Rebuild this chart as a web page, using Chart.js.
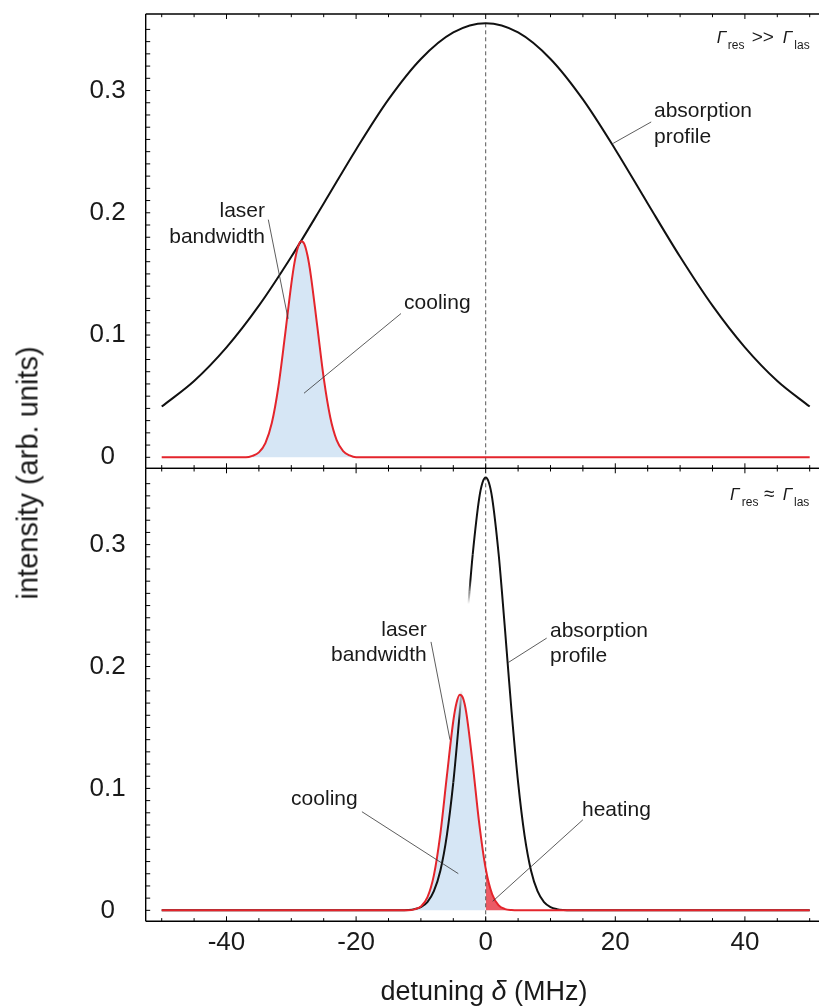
<!DOCTYPE html>
<html>
<head>
<meta charset="utf-8">
<script src="https://cdn.jsdelivr.net/npm/chart.js@4.4.0/dist/chart.umd.min.js"></script>
<style>
  body { margin: 0; width: 819px; height: 1007px; overflow: hidden; background: #fff; position: relative; font-family: "Liberation Sans", Arial, sans-serif; color: #1a1a1a; }
  .box { position: absolute; left: 0; }
  #ytitle { position: absolute; left: 28px; top: 473px; font-size: 29px; white-space: nowrap; transform: translate(-50%, -50%) rotate(-90deg); }
  #xtitle { position: absolute; left: 484px; top: 976px; font-size: 27px; line-height: 30px; white-space: nowrap; transform: translateX(-50%); }
</style>
</head>
<body>
<div class="box" style="top:0"><canvas id="topChart" width="840" height="470"></canvas></div>
<div class="box" style="top:460px"><canvas id="botChart" width="840" height="547"></canvas></div>
<div id="ytitle">intensity (arb. units)</div>
<div id="xtitle">detuning <i>δ</i> (MHz)</div>
<script>
// axis ticks
const xTicks = [-40, -20, 0, 20, 40];
const yTicks = [0, 0.1, 0.2, 0.3];

// top panel: broad absorption profile (Γres >> Γlas)
const absWideX = [-50, -45, -40, -35, -30, -25, -20, -15, -10, -5, 0, 5, 10, 15, 20, 25, 30, 35, 40, 45, 50];
const absWideY = [0.0415, 0.0624, 0.0899, 0.1240, 0.1640, 0.2076, 0.2518, 0.2927, 0.3258, 0.3475, 0.3550,
                  0.3475, 0.3258, 0.2927, 0.2518, 0.2076, 0.1640, 0.1240, 0.0899, 0.0624, 0.0415];

// top panel: laser spectrum
const laserTopX = [-50, -37, -36, -35, -34, -33, -32, -31, -30, -29.5, -29, -28.5, -28, -27.5, -27, -26, -25, -24, -23, -22, -21, -20, 50];
const laserTopY = [0, 0, 0.0012, 0.0040, 0.0116, 0.0282, 0.0575, 0.0984, 0.1417, 0.1594, 0.1715, 0.1768, 0.1746, 0.1650,
                   0.1493, 0.1074, 0.0649, 0.0330, 0.0141, 0.0051, 0.0015, 0, 0];

// bottom panel: narrow absorption profile (Γres ≈ Γlas)
const absNarrowX = [-50, -13, -12, -11, -10, -9, -8, -7, -6, -5, -4, -3.5, -3, -2.5, -2, -1, -0.5, 0,
                    0.5, 1, 2, 2.5, 3, 3.5, 4, 5, 6, 7, 8, 9, 10, 11, 12, 13, 50];
const absNarrowY = [0, 0, 0.0003, 0.0010, 0.0027, 0.0068, 0.0157, 0.0325, 0.0613, 0.1049, 0.1627, 0.1953, 0.2289, 0.2617, 0.2921, 0.3381, 0.3507, 0.3550,
                    0.3507, 0.3381, 0.2921, 0.2617, 0.2289, 0.1953, 0.1627, 0.1049, 0.0613, 0.0325, 0.0157, 0.0068, 0.0027, 0.0010, 0.0003, 0, 0];

// bottom panel: laser spectrum
const laserBotX = [-50, -12, -11, -10, -9, -8, -7, -6, -5, -4.5, -4, -3.5, -3, -2, -1, 0, 1, 2, 3, 4, 5, 50];
const laserBotY = [0, 0, 0.0008, 0.0032, 0.0106, 0.0287, 0.0626, 0.1098, 0.1553, 0.1702, 0.1768, 0.1740, 0.1622,
                   0.1198, 0.0713, 0.0342, 0.0132, 0.0041, 0.0010, 0.0002, 0, 0];

const RESONANCE = 0;
const PEAK = 0.355;

const FONT = '"Liberation Sans", Arial, sans-serif';
const X_MIN = -52.47, X_MAX = 52.47;
const Y_MIN = -0.0090, Y_MAX = 0.3626;

const pts = (xs, ys) => xs.map((x, i) => ({ x, y: ys[i] }));

function curve(data, color, order, segment) {
  return { data, borderColor: color, borderWidth: 2, pointRadius: 0, fill: false,
           cubicInterpolationMode: 'monotone', order, segment };
}
function area(data, color) {
  return { data, borderWidth: 0, backgroundColor: color, pointRadius: 0, fill: 'origin',
           cubicInterpolationMode: 'monotone', order: 5 };
}
function dashed() {
  return { data: [{ x: RESONANCE, y: Y_MIN }, { x: RESONANCE, y: PEAK }], borderColor: '#555', borderWidth: 1,
           borderDash: [4, 3], pointRadius: 0, fill: false, order: 4 };
}

function scales(bottomAxis) {
  return {
    x: {
      type: 'linear', min: X_MIN, max: X_MAX, display: bottomAxis,
      grid: { display: false, drawTicks: false }, border: { display: false },
      ticks: { font: { family: FONT, size: 26 }, color: '#1a1a1a', padding: 6, callback: v => String(v) },
      afterBuildTicks: s => { s.ticks = xTicks.map(v => ({ value: v })); },
      afterFit: s => { if (bottomAxis) { s.height = 85.7; s.paddingLeft = 0; s.paddingRight = 0; } }
    },
    y: {
      type: 'linear', min: Y_MIN, max: Y_MAX,
      grid: { display: false, drawTicks: false }, border: { display: false },
      ticks: { font: { family: FONT, size: 26 }, color: '#1a1a1a', padding: 20, crossAlign: 'center', callback: v => String(v) },
      afterBuildTicks: s => { s.ticks = yTicks.map(v => ({ value: v })); },
      afterFit: s => { s.width = 145.7; s.paddingTop = 0; s.paddingBottom = 0; }
    }
  };
}

// frame with inward ticks, like the original
function framePlugin(topWidth, bottomWidth) {
  return {
    id: 'frame',
    afterDatasetsDraw(chart) {
      const { ctx, chartArea: a, scales: { x, y } } = chart;
      const seg = (x1, y1, x2, y2) => { ctx.beginPath(); ctx.moveTo(x1, y1); ctx.lineTo(x2, y2); ctx.stroke(); };
      ctx.save();
      ctx.strokeStyle = '#000';
      ctx.lineWidth = 1;
      for (let v = -50; v <= 50; v += 5) {
        const px = x.getPixelForValue(v);
        const len = v % 20 === 0 ? 5 : 3.2;
        seg(px, a.top, px, a.top + len);
        seg(px, a.bottom, px, a.bottom - len);
      }
      for (let i = 0; i <= 35; i++) {
        const py = y.getPixelForValue(i / 100);
        seg(a.left, py, a.left + 4.5, py);
      }
      ctx.lineWidth = 1.4;
      seg(a.left, a.top, a.left, a.bottom);
      ctx.lineWidth = topWidth;
      seg(a.left, a.top, a.right, a.top);
      ctx.lineWidth = bottomWidth;
      seg(a.left, a.bottom, a.right, a.bottom);
      ctx.restore();
    }
  };
}

// labels with leader lines, placed in data coordinates
function notesPlugin(notes, leaders, gamma) {
  return {
    id: 'notes',
    afterDraw(chart) {
      const { ctx, scales: { x, y } } = chart;
      ctx.save();
      ctx.strokeStyle = '#333';
      ctx.lineWidth = 0.8;
      leaders.forEach(([x1, y1, x2, y2]) => {
        ctx.beginPath();
        ctx.moveTo(x.getPixelForValue(x1), y.getPixelForValue(y1));
        ctx.lineTo(x.getPixelForValue(x2), y.getPixelForValue(y2));
        ctx.stroke();
      });
      ctx.fillStyle = '#1a1a1a';
      ctx.font = '21px ' + FONT;
      ctx.textBaseline = 'alphabetic';
      notes.forEach(n => {
        ctx.textAlign = n.align;
        const px = x.getPixelForValue(n.x), py = y.getPixelForValue(n.y);
        n.lines.forEach((t, i) => ctx.fillText(t, px, py + i * 25.5));
      });
      ctx.textAlign = 'left';
      const gx = x.getPixelForValue(gamma.x), gy = y.getPixelForValue(gamma.y);
      gamma.parts.forEach(p => {
        ctx.font = (p.italic ? 'italic ' : '') + p.size + 'px ' + FONT;
        ctx.fillText(p.t, gx + p.dx, gy + p.dy);
      });
      ctx.restore();
    }
  };
}

const blueFill = '#d6e6f5';
const heatFill = 'rgba(232, 62, 74, 0.85)';
const red = '#e4252c';
const black = '#111';

// the narrow profile's left flank fades out behind the "laser bandwidth" label, as in the original
const washSegment = {
  borderColor: c => {
    const x0 = c.p0.parsed.x;
    if (x0 < -5 || x0 >= -2) return black;
    const y = c.chart.scales.y;
    const g = c.chart.ctx.createLinearGradient(0, y.getPixelForValue(0.2711), 0, y.getPixelForValue(0.1539));
    g.addColorStop(0, 'rgba(17,17,17,1)');
    g.addColorStop(0.17, 'rgba(17,17,17,0)');
    g.addColorStop(0.77, 'rgba(17,17,17,0)');
    g.addColorStop(1, 'rgba(17,17,17,1)');
    return g;
  }
};

const laserTop = pts(laserTopX, laserTopY);
new Chart(document.getElementById('topChart'), {
  type: 'line',
  data: { datasets: [
    area(laserTop, blueFill),
    dashed(),
    curve(pts(absWideX, absWideY), black, 2),
    curve(laserTop, red, 1)
  ] },
  options: {
    responsive: false, animation: false, events: [],
    layout: { padding: { left: 0, top: 14, right: 14.3, bottom: 1.7 } },
    plugins: { legend: { display: false }, tooltip: { enabled: false } },
    scales: scales(false)
  },
  plugins: [
    framePlugin(1.4, 1.2),
    notesPlugin(
      [
        { lines: ['absorption', 'profile'], x: 25.97, y: 0.2782, align: 'left' },
        { lines: ['laser', 'bandwidth'], x: -34.06, y: 0.1963, align: 'right' },
        { lines: ['cooling'], x: -12.6, y: 0.1216, align: 'left' }
      ],
      [[19.67, 0.2568, 25.54, 0.2743], [-33.55, 0.1944, -30.5, 0.1133], [-13.07, 0.1176, -28.04, 0.0524]],
      { x: 50.05, y: 0.3386, parts: [
        { t: 'Γ', size: 17, italic: true, dx: -93.3, dy: 0 },
        { t: 'res', size: 12, dx: -82.3, dy: 6 },
        { t: '>>', size: 19, dx: -58.3, dy: 0 },
        { t: 'Γ', size: 17, italic: true, dx: -27.3, dy: 0 },
        { t: 'las', size: 12, dx: -15.7, dy: 6 }
      ] }
    )
  ]
});

const laserBot = pts(laserBotX, laserBotY);
new Chart(document.getElementById('botChart'), {
  type: 'line',
  data: { datasets: [
    area(laserBot.filter(p => p.x <= RESONANCE), blueFill),
    area(laserBot.filter(p => p.x >= RESONANCE), heatFill),
    dashed(),
    curve(pts(absNarrowX, absNarrowY), black, 2, washSegment),
    curve(laserBot, red, 1)
  ] },
  options: {
    responsive: false, animation: false, events: [],
    layout: { padding: { left: 0, top: 8.3, right: 14.3, bottom: 0 } },
    plugins: { legend: { display: false }, tooltip: { enabled: false } },
    scales: scales(true)
  },
  plugins: [
    framePlugin(1.2, 1.4),
    notesPlugin(
      [
        { lines: ['laser', 'bandwidth'], x: -9.1, y: 0.2252, align: 'right' },
        { lines: ['absorption', 'profile'], x: 9.92, y: 0.2243, align: 'left' },
        { lines: ['cooling'], x: -30.03, y: 0.0868, align: 'left' },
        { lines: ['heating'], x: 14.86, y: 0.0776, align: 'left' }
      ],
      [[-8.44, 0.2202, -5.51, 0.1399], [3.49, 0.2033, 9.41, 0.2233], [-19.1, 0.0809, -4.23, 0.0301], [15.0, 0.0743, 1.08, 0.0074]],
      { x: 50.05, y: 0.3366, parts: [
        { t: 'Γ', size: 17, italic: true, dx: -80, dy: 0 },
        { t: 'res', size: 12, dx: -68.3, dy: 6 },
        { t: '≈', size: 19, dx: -46, dy: 0 },
        { t: 'Γ', size: 17, italic: true, dx: -27.3, dy: 0 },
        { t: 'las', size: 12, dx: -16, dy: 6 }
      ] }
    )
  ]
});
</script>
</body>
</html>
